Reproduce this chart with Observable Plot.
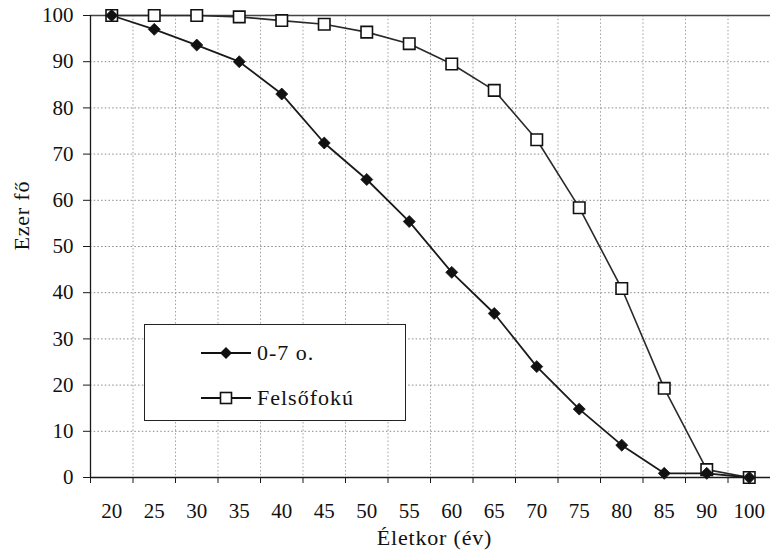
<!DOCTYPE html>
<html>
<head>
<meta charset="utf-8">
<script src="https://cdn.jsdelivr.net/npm/d3@7"></script>
<script src="https://cdn.jsdelivr.net/npm/@observablehq/plot@0.6"></script>
<style>
  body { margin: 0; background: #fff; }
  #wrap { position: relative; width: 770px; height: 557px; font-family: "Liberation Serif", "Times New Roman", Tinos, serif; color: #111; }
  .legend { position: absolute; left: 144px; top: 324px; width: 262px; height: 97px; border: 1.3px solid #222; background: #fff; box-sizing: border-box; }
  .legend .row { position: absolute; left: 56px; display: flex; align-items: center; font-size: 22px; letter-spacing: 1px; }
  .legend svg { margin-right: 6px; }
  svg text { font-family: "Liberation Serif", "Times New Roman", Tinos, serif; }
  .ttl { letter-spacing: 0.8px; }
</style>
</head>
<body>
<div id="wrap"></div>
<script>
// Categories (age, years)
const ages = ["20","25","30","35","40","45","50","55","60","65","70","75","80","85","90","100"];
// Series
const series1Name = "0-7 o.";
const series1 = [100, 97, 93.6, 90, 83, 72.4, 64.5, 55.4, 44.4, 35.5, 24, 14.8, 7, 0.9, 0.9, 0];
const series2Name = "Felsőfokú";
const series2 = [100, 100, 100, 99.7, 98.9, 98.1, 96.4, 93.9, 89.5, 83.8, 73.1, 58.4, 40.9, 19.3, 1.7, 0];
// Axis ticks and labels
const yTicks = [0, 10, 20, 30, 40, 50, 60, 70, 80, 90, 100];
const xTitle = "Életkor (év)";
const yTitle = "Ezer fő";

const idx = ages.map((_, i) => i);
const boundaries = d3.range(ages.length + 1).map(i => i - 0.5);
const data1 = idx.map(i => ({i, v: series1[i]}));
const data2 = idx.map(i => ({i, v: series2[i]}));

const serif = "'Liberation Serif', 'Times New Roman', Tinos, serif";
const dark = "#1a1a1a";
const chart = Plot.plot({
  width: 770,
  height: 557,
  marginLeft: 90,
  marginRight: 0,
  marginTop: 15,
  marginBottom: 80,
  style: { fontFamily: serif, fontSize: "21px", color: "#111", background: "white", overflow: "visible" },
  x: { type: "linear", domain: [-0.5, ages.length - 0.5] },
  y: { type: "linear", domain: [0, 100] },
  marks: [
    Plot.gridY(yTicks.filter(v => v > 0 && v < 100), { stroke: "#8a8a8a", strokeOpacity: 1, strokeDasharray: "1.5,2.2" }),
    Plot.gridX(boundaries.slice(1, -1), { stroke: "#a0a0a0", strokeOpacity: 1, strokeDasharray: "1.5,2.2" }),
    Plot.ruleY([100], { stroke: "#444", strokeWidth: 1.3 }),
    Plot.ruleX([boundaries[0]], { stroke: dark, strokeWidth: 1.3 }),
    Plot.ruleY([0], { stroke: dark, strokeWidth: 1.3 }),
    Plot.axisY({ ticks: yTicks, tickSize: 7, tickPadding: 10, label: null, fontSize: 21, stroke: dark }),
    Plot.axisX({ ticks: idx, tickSize: 0, tickPadding: 26, tickFormat: i => ages[i], label: null, fontSize: 21 }),
    Plot.axisX({ ticks: boundaries, tickSize: 6, tickFormat: () => "", label: null, stroke: dark }),
    Plot.text([xTitle], { frameAnchor: "bottom", dy: 67, dx: 4, fontSize: 22, fill: "#111", className: "ttl" }),
    Plot.text([yTitle], { frameAnchor: "left", dx: -69, dy: 4, rotate: -90, fontSize: 22, fill: "#111", className: "ttl" }),
    Plot.line(data2, { x: "i", y: "v", stroke: "#2a2a2a", strokeWidth: 1.6 }),
    Plot.line(data1, { x: "i", y: "v", stroke: "#1a1a1a", strokeWidth: 1.8 }),
    Plot.dot(data2, { x: "i", y: "v", symbol: "square2", r: 7.3, fill: "white", stroke: "#111", strokeWidth: 1.6 }),
    Plot.dot(data1, { x: "i", y: "v", symbol: "diamond2", r: 5.4, fill: "#111", stroke: "#111", strokeWidth: 0.8 })
  ]
});

const wrap = document.getElementById("wrap");
wrap.appendChild(chart);

const legend = document.createElement("div");
legend.className = "legend";
const sym1 = `<svg width="50" height="20"><line x1="0" y1="10" x2="50" y2="10" stroke="#111" stroke-width="1.8"/><path d="M25,4 L31,10 L25,16 L19,10 Z" fill="#111"/></svg>`;
const sym2 = `<svg width="50" height="20"><line x1="0" y1="10" x2="50" y2="10" stroke="#111" stroke-width="1.8"/><rect x="19.5" y="4.5" width="11" height="11" fill="white" stroke="#111" stroke-width="1.6"/></svg>`;
legend.innerHTML = `<div class="row" style="top:15px">${sym1}<span>${series1Name}</span></div>
<div class="row" style="top:60px">${sym2}<span>${series2Name}</span></div>`;
wrap.appendChild(legend);
</script>
</body>
</html>
